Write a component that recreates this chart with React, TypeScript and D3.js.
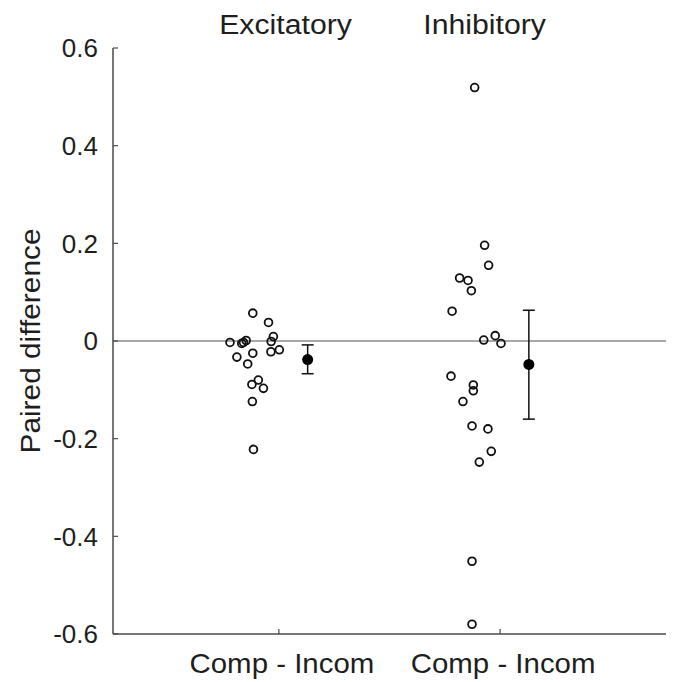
import React from "react";
import * as d3 from "d3";

// group labels and tick values
const groups = ["Excitatory", "Inhibitory"];
const xTickLabels = ["Comp - Incom", "Comp - Incom"];
const yTicks = [-0.6, -0.4, -0.2, 0, 0.2, 0.4, 0.6];

// individual paired differences (x = jittered position, y = value)
const excX = [0.882, 0.953, 0.779, 0.832, 0.84, 0.852, 0.975, 0.965, 0.882, 0.964, 1.002, 0.81, 0.859, 0.907, 0.878, 0.93, 0.88, 0.885];
const excY = [0.057, 0.038, -0.003, -0.005, -0.003, 0.001, 0.009, -0.001, -0.025, -0.022, -0.018, -0.033, -0.047, -0.08, -0.089, -0.097, -0.124, -0.222];
const inhX = [1.885, 1.93, 1.948, 1.817, 1.855, 1.87, 1.783, 1.978, 1.926, 2.004, 1.778, 1.879, 1.879, 1.832, 1.873, 1.945, 1.96, 1.906, 1.873, 1.873];
const inhY = [0.519, 0.196, 0.155, 0.129, 0.124, 0.103, 0.061, 0.011, 0.002, -0.005, -0.072, -0.09, -0.102, -0.124, -0.174, -0.18, -0.226, -0.248, -0.451, -0.58];

// mean and error bar per group
const meanX = [1.13, 2.13];
const meanY = [-0.038, -0.048];
const errLow = [-0.067, -0.16];
const errHigh = [-0.008, 0.063];

const W = 678;
const H = 682;
const font = "'Liberation Sans', Arial, Helvetica, sans-serif";

const App = () => {
  const x = d3.scaleLinear().domain([0.25, 2.75]).range([113, 666]);
  const y = d3.scaleLinear().domain([-0.6, 0.6]).range([634, 48]);
  const axisColor = "#4a4a4a";
  const textColor = "#1e1e1e";

  const pts = [
    ...excX.map((v, i) => ({ x: v, y: excY[i] })),
    ...inhX.map((v, i) => ({ x: v, y: inhY[i] })),
  ];

  // MATLAB style labels: plain hyphen, "0" without decimals
  const fmt = (t) => (t === 0 ? "0" : t.toFixed(1));

  return (
    <svg width={W} height={H} style={{ position: "absolute", left: 0, top: 0, background: "#fff" }}>
      {/* zero reference line */}
      <line x1={x(0.25)} x2={x(2.75)} y1={y(0)} y2={y(0)} stroke="#8a8a8a" strokeWidth={1.5} />

      {/* axes */}
      <line x1={x(0.25)} x2={x(0.25)} y1={y(0.6)} y2={y(-0.6)} stroke={axisColor} strokeWidth={1.5} />
      <line x1={x(0.25)} x2={x(2.75)} y1={y(-0.6)} y2={y(-0.6)} stroke={axisColor} strokeWidth={1.5} />
      {yTicks.map((t) => (
        <g key={t}>
          <line x1={x(0.25)} x2={x(0.25) + 5} y1={y(t)} y2={y(t)} stroke={axisColor} strokeWidth={1.2} />
          <text x={x(0.25) - 15} y={y(t)} dy="0.36em" textAnchor="end" fontSize={26} fontFamily={font} fill={textColor}>
            {fmt(t)}
          </text>
        </g>
      ))}
      {xTickLabels.map((lab, i) => (
        <g key={i}>
          <line x1={x(i + 1)} x2={x(i + 1)} y1={y(-0.6)} y2={y(-0.6) - 5} stroke={axisColor} strokeWidth={1.2} />
          <text x={x(i + 1) + 3} y={673} textAnchor="middle" fontSize={27} fontFamily={font} fill={textColor}
            transform={`translate(${x(i + 1) + 3},0) scale(1.09,1) translate(${-(x(i + 1) + 3)},0)`}>
            {lab}
          </text>
        </g>
      ))}

      {/* group titles */}
      {groups.map((g, i) => (
        <text key={g} x={x(i + 1.03 - i * 0.1)} y={34} textAnchor="middle" fontSize={27} fontFamily={font} fill={textColor}
          transform={`translate(${x(i + 1.03 - i * 0.1)},0) scale(1.12,1) translate(${-x(i + 1.03 - i * 0.1)},0)`}>
          {g}
        </text>
      ))}

      {/* y label */}
      <text transform={`translate(40,${y(0)}) rotate(-90)`} textAnchor="middle" fontSize={27} fontFamily={font} fill={textColor}
        textLength={225} lengthAdjust="spacingAndGlyphs">
        Paired difference
      </text>

      {/* individual points */}
      {pts.map((p, i) => (
        <circle key={i} cx={x(p.x)} cy={y(p.y)} r={3.9} fill="none" stroke="#111" strokeWidth={1.8} />
      ))}

      {/* means with error bars */}
      {meanX.map((mx, i) => (
        <g key={i} stroke="#111" strokeWidth={1.5}>
          <line x1={x(mx)} x2={x(mx)} y1={y(errLow[i])} y2={y(errHigh[i])} />
          <line x1={x(mx) - 6} x2={x(mx) + 6} y1={y(errLow[i])} y2={y(errLow[i])} />
          <line x1={x(mx) - 6} x2={x(mx) + 6} y1={y(errHigh[i])} y2={y(errHigh[i])} />
          <circle cx={x(mx)} cy={y(meanY[i])} r={5.5} fill="#000" stroke="none" />
        </g>
      ))}
    </svg>
  );
};

export default App;
